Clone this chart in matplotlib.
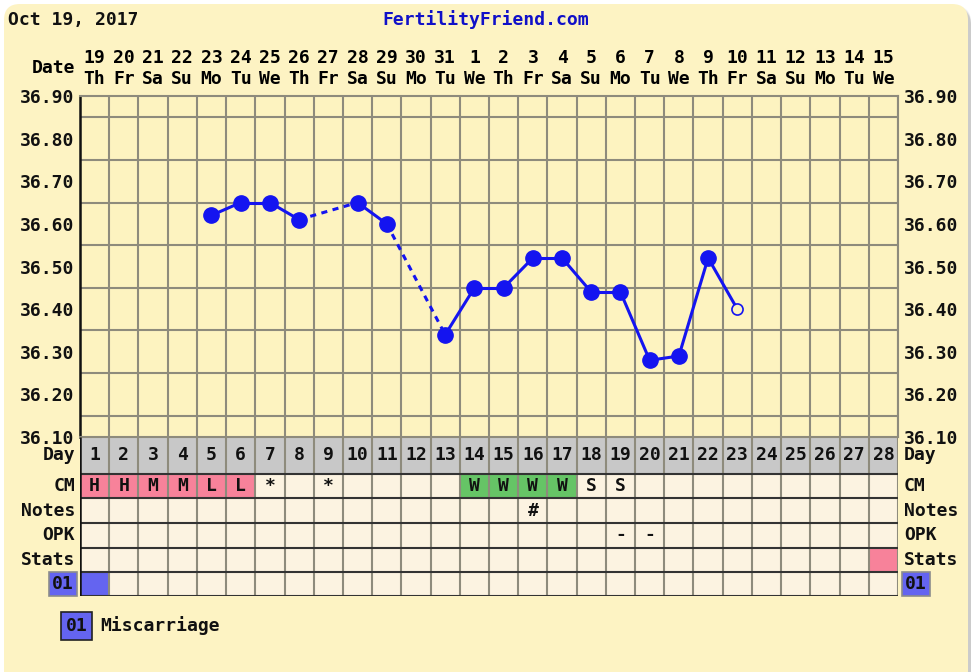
import matplotlib
matplotlib.use("Agg")
import matplotlib.pyplot as plt
import numpy as np
from matplotlib.patches import FancyBboxPatch
from matplotlib.transforms import IdentityTransform

# ---- chart data ----
cycle_days = list(range(1, 29))
date_nums = [19, 20, 21, 22, 23, 24, 25, 26, 27, 28, 29, 30, 31, 1,
             2, 3, 4, 5, 6, 7, 8, 9, 10, 11, 12, 13, 14, 15]
weekdays = ["Th", "Fr", "Sa", "Su", "Mo", "Tu", "We",
            "Th", "Fr", "Sa", "Su", "Mo", "Tu", "We",
            "Th", "Fr", "Sa", "Su", "Mo", "Tu", "We",
            "Th", "Fr", "Sa", "Su", "Mo", "Tu", "We"]
nan = np.nan
temps = [nan, nan, nan, nan, 36.62, 36.65, 36.65, 36.61, nan, 36.65,
         36.60, nan, 36.34, 36.45, 36.45, 36.52, 36.52, 36.44, 36.44, 36.28,
         36.29, 36.52, 36.40, nan, nan, nan, nan, nan]
open_days = [23]
cm_labels = ["H", "H", "M", "M", "L", "L", "*", "", "*", "", "", "", "", "W",
             "W", "W", "W", "S", "S", "", "", "", "", "", "", "", "", ""]
notes = [""] * 15 + ["#"] + [""] * 12
opk = [""] * 18 + ["-", "-"] + [""] * 8
stats_days = [28]
miscarriage_days = [1]
row_names = ["Day", "CM", "Notes", "OPK", "Stats"]

W, H = 978, 672
plt.rcParams['font.family'] = ['DejaVu Sans Mono']
plt.rcParams['font.weight'] = 'bold'
plt.rcParams['font.size'] = 13

bg = '#FDF3C3'
cell_bg = '#FCF3E1'
grid_c = '#8E8B7C'
pink = '#F7829A'
green = '#66C466'
blue = '#1414F0'
box_blue = '#6464F0'

fig = plt.figure(figsize=(W / 100, H / 100), dpi=100)
fig.patch.set_facecolor('white')

# rounded yellow panel with soft shadow (pixel coords)
for i, a in enumerate([0.05, 0.07, 0.09, 0.12]):
    fig.patches.append(FancyBboxPatch((5 + i, -40), 966 - i, H - 6 + 40 - i,
                                      boxstyle="round,pad=0,rounding_size=16",
                                      transform=IdentityTransform(), facecolor='#555555',
                                      edgecolor='none', alpha=a, zorder=-2))
fig.patches.append(FancyBboxPatch((4, -40), 964, H - 4 + 40,
                                  boxstyle="round,pad=0,rounding_size=16",
                                  transform=IdentityTransform(), facecolor=bg,
                                  edgecolor='none', zorder=-1))

fig.text(8 / W, 1 - 20 / H, "Oct 19, 2017", ha='left', va='center', color='#111111')
fig.text(486 / W, 1 - 20 / H, "FertilityFriend.com", ha='center', va='center', color='#1010C8')

# ---- temperature plot ----
ax = fig.add_axes([80 / W, 1 - 437 / H, 818 / W, 341 / H])
ax.set_facecolor('#FDF3C0')
ax.set_xlim(0.5, 28.5)
ax.set_ylim(36.10, 36.90)
ax.set_xticks(np.arange(0.5, 28.6, 1), minor=True)
ax.set_yticks(np.arange(36.10, 36.901, 0.05), minor=True)
ax.set_xticks([])
ax.set_yticks(np.arange(36.10, 36.901, 0.10))
ax.set_yticklabels(["%.2f" % v for v in np.arange(36.10, 36.901, 0.10)])
ax.grid(which='minor', color=grid_c, lw=1.5, zorder=1)
ax.tick_params(which='both', length=0)
ax.tick_params(axis='y', labelright=True, pad=4, colors='#111111')
for s in ['top', 'right', 'bottom']:
    ax.spines[s].set_color(grid_c)
    ax.spines[s].set_linewidth(1.5)
ax.spines['left'].set_color('#111111')
ax.spines['left'].set_linewidth(1.8)

for d, n, w in zip(cycle_days, date_nums, weekdays):
    ax.annotate(str(n), xy=(d, 1), xycoords=('data', 'axes fraction'),
                xytext=(0, 27.4), textcoords='offset points', ha='center', va='center')
    ax.annotate(w, xy=(d, 1), xycoords=('data', 'axes fraction'),
                xytext=(0, 12.6), textcoords='offset points', ha='center', va='center')
ax.annotate("Date", xy=(0.5, 1), xycoords=('data', 'axes fraction'),
            xytext=(-3.6, 20), textcoords='offset points', ha='right', va='center')

days = np.array(cycle_days)
t = np.array(temps)
vd = days[~np.isnan(t)]
vt = t[~np.isnan(t)]
for a, b, ta, tb_ in zip(vd[:-1], vd[1:], vt[:-1], vt[1:]):
    if b - a == 1:
        ax.plot([a, b], [ta, tb_], color=blue, lw=2.2, zorder=3)
    else:
        ax.plot([a, b], [ta, tb_], color=blue, lw=2.2, zorder=3,
                dashes=(2.0, 1.8))
filled = np.array([d not in open_days for d in vd])
opened = ~filled
ax.plot(vd[filled], vt[filled], 'o', color=blue, ms=11, zorder=4)
ax.plot(vd[opened], vt[opened], 'o', mfc='#FDF3C0', mec=blue, mew=1.2, ms=8, zorder=4)

# ---- table below ----
row_edges = [0, 37, 61, 86, 111, 135, 159]
tb = fig.add_axes([80 / W, 1 - 596 / H, 818 / W, 159 / H])
tb.set_xlim(0.5, 28.5)
tb.set_ylim(159, 0)
tb.set_facecolor(cell_bg)
tb.set_xticks([])
tb.set_yticks([])
for s in tb.spines.values():
    s.set_visible(False)

def row_span(i):
    return row_edges[i], row_edges[i + 1] - row_edges[i]

def row_mid(i):
    return (row_edges[i] + row_edges[i + 1]) / 2

b0, h0 = row_span(0)
tb.bar(days, h0, bottom=b0, width=1, color='#C8C8C8', zorder=1)
b1, h1 = row_span(1)
cm_col = {"H": pink, "M": pink, "L": pink, "W": green}
for d, c in zip(cycle_days, cm_labels):
    if c in cm_col:
        tb.bar(d, h1, bottom=b1, width=1, color=cm_col[c], zorder=1)
b4, h4 = row_span(4)
tb.bar(stats_days, h4, bottom=b4, width=1, color=pink, zorder=1)
b5, h5 = row_span(5)
tb.bar(miscarriage_days, h5, bottom=b5, width=1, color=box_blue, zorder=1)

for d in cycle_days:
    tb.text(d, row_mid(0), str(d), ha='center', va='center', color='#111111', zorder=3)
for row, labels in [(1, cm_labels), (2, notes), (3, opk)]:
    for d, s in zip(cycle_days, labels):
        if s:
            tb.text(d, row_mid(row), s, ha='center', va='center', color='#111111', zorder=3)

tb.vlines(np.arange(0.5, 28.6, 1), 0, 159, color=grid_c, lw=1.5, zorder=2)
tb.hlines(row_edges[0], 0.5, 28.5, color=grid_c, lw=1.5, zorder=2)
tb.hlines(row_edges[1:], 0.5, 28.5, color='#333333', lw=1.5, zorder=2)
tb.vlines(0.5, 0, 159, color='#111111', lw=1.8, zorder=3)

for i, name in enumerate(row_names):
    tb.annotate(name, xy=(0.5, row_mid(i)), xytext=(-3.6, 0), textcoords='offset points',
                ha='right', va='center', color='#111111')
    tb.annotate(name, xy=(28.5, row_mid(i)), xytext=(4.3, 0), textcoords='offset points',
                ha='left', va='center', color='#111111')

box = dict(boxstyle='square,pad=0.18', facecolor=box_blue, edgecolor='#8C8C8C', lw=1.2)
tb.annotate("01", xy=(0.5, row_mid(5)), xytext=(-4.3, 0), textcoords='offset points',
            ha='right', va='center', color='#111111', bbox=box)
tb.annotate("01", xy=(28.5, row_mid(5)), xytext=(5, 0), textcoords='offset points',
            ha='left', va='center', color='#111111', bbox=box)

# legend
fig.text(66 / W, 1 - 626 / H, "01", ha='left', va='center', color='#111111',
         bbox=dict(boxstyle='square,pad=0.25', facecolor=box_blue, edgecolor='#222222', lw=1.2))
fig.text(100 / W, 1 - 626 / H, "Miscarriage", ha='left', va='center', color='#111111')

fig.savefig("out.png", dpi=100, facecolor=fig.get_facecolor())
